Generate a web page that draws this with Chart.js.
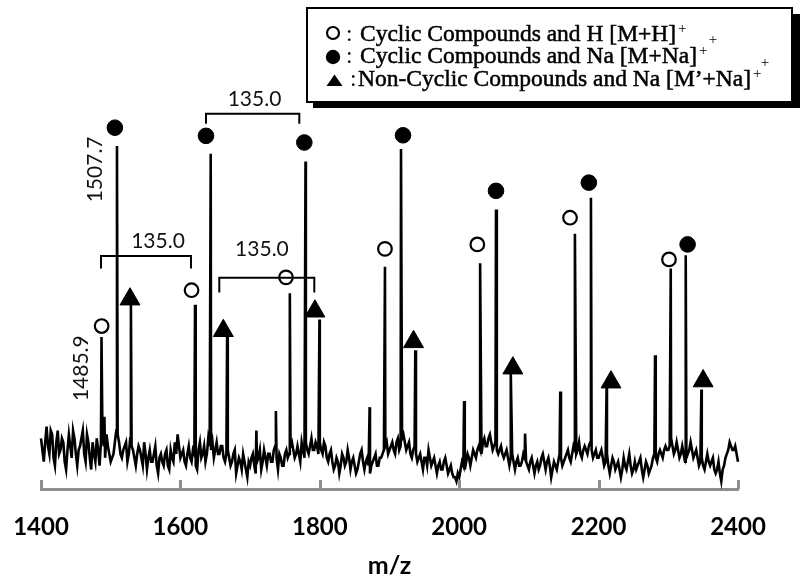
<!DOCTYPE html>
<html><head><meta charset="utf-8">
<script src="https://cdn.jsdelivr.net/npm/chart.js@4.4.1/dist/chart.umd.min.js"></script>
<style>html,body{margin:0;padding:0;background:#fff}#wrap{width:800px;height:583px}</style>
</head><body><div id="wrap"><canvas id="c" width="800" height="583"></canvas></div>
<script>
// ---- axis ----
const xTicks = [1400, 1600, 1800, 2000, 2200, 2400];
const xTitle = 'm/z';

// ---- baseline noise, every 4 m/z from 1400 to 2400 ----
const noiseStartMz = 1400, noiseStepMz = 4;
const noise = [
  13,7,16,9,14,6,15,10,12,5,14,8,13,6,11,15,7,12,5,9,13,6,17,8,11,
  7,9,15,12,8,11,7,13,10,6,11,8,12,5,10,7,11,4,9,6,10,5,8,12,14,
  8,10,6,11,7,9,5,12,9,7,13,10,8,12,9,11,7,10,6,9,4,8,5,7,3,
  6,9,4,8,5,10,6,9,7,11,5,8,6,10,9,12,8,11,7,10,12,9,13,10,11,
  12,9,11,7,10,5,8,4,9,6,10,5,8,4,7,10,5,8,4,7,9,6,8,10,12,
  10,12,9,13,11,14,10,12,8,11,7,9,5,8,10,6,8,4,7,5,8,4,6,3,2,
  3,7,5,9,6,10,8,11,9,13,11,14,10,12,9,11,8,10,6,9,5,8,6,9,7,
  5,8,4,7,6,9,5,8,3,7,5,9,6,8,10,7,11,9,12,8,11,9,12,8,10,
  8,10,6,9,4,8,5,7,3,8,5,9,4,7,6,8,3,7,4,6,9,7,10,8,11,
  10,13,9,12,8,11,7,9,12,8,10,6,8,5,9,6,8,4,7,2,6,9,12,10,11,
  7
];
// in-between noise samples, every 4 m/z from 1402 to 2398
const noiseMidStartMz = 1402;
const noiseMid = [
  10,12,11,15,8,12,9,13,7,10,11,15,9,10,13,9,14,8,12,7,10,12,11,14,9,
  8,12,14,9,10,12,9,11,8,9,10,6,9,8,7,9,6,8,7,9,6,10,7,9,11,
  9,7,9,8,10,6,10,8,11,9,11,12,10,9,11,8,9,8,7,10,6,7,9,5,7,
  8,6,7,10,7,8,9,7,10,8,9,6,9,8,11,10,9,9,12,8,10,11,10,12,9,
  10,12,8,9,7,6,7,6,8,7,8,7,6,5,9,7,7,6,6,8,6,8,9,11,9,
  11,10,12,10,13,12,11,9,10,9,8,7,8,6,8,7,6,6,5,7,6,5,4,3,4,
  5,6,7,8,8,9,10,10,12,11,13,12,11,10,10,9,9,8,8,7,7,6,7,8,6,
  7,6,6,5,8,7,7,6,5,6,7,8,7,9,8,9,10,10,9,10,10,11,10,9,8,
  9,8,7,6,6,7,6,5,5,6,7,6,5,5,7,5,5,6,5,8,8,9,9,10,10,
  11,11,10,10,9,9,8,10,10,9,8,7,6,7,7,7,5,5,4,5,8,10,11,10,9
];

// ---- peaks (m/z, intensity) ----
const peakMz = [1486.8, 1491, 1509, 1529, 1621, 1643.5, 1667, 1709, 1737, 1757, 1779.5, 1799.5,
  1871.5, 1893.5, 1916.5, 1937, 2007, 2030, 2052.8, 2074, 2094.5, 2145, 2166, 2189, 2211.5,
  2281, 2303.5, 2325, 2347.5];
const peakIntensity = [39, 18.5, 88, 47.25, 47.25, 86, 39, 15, 20, 50.25, 84, 43.5,
  21, 57, 87.25, 35.6, 22.6, 57.9, 71.7, 29.7, 14.2, 25, 65.5, 74.7, 26.3,
  34.3, 56.6, 60, 25.5];

// ---- peak symbols ----
const openMz = [1487, 1616, 1751.5, 1893.5, 2026, 2159, 2301];
const openY = [41.8, 51, 54.3, 61.6, 62.75, 69.6, 58.9];
const filledMz = [1506, 1636.7, 1777.8, 1919.4, 2052.8, 2186, 2327.7];
const filledY = [92.7, 90.6, 88.9, 90.75, 76.5, 78.6, 62.75];
const triMz = [1527.7, 1661.6, 1793, 1934.5, 2077, 2217.8, 2350];
const triY = [48.7, 40.6, 45.6, 37.75, 31, 27.4, 27.7];

// ---- annotations ----
const bracketFromMz = [1636.7, 1486.1, 1655.8];
const bracketToMz = [1770.6, 1615.2, 1792.1];
const bracketLevel = [96.25, 59.75, 54.2];
const bracketFoot = [93.7, 56.6, 50.4];
const bracketText = ['135.0', '135.0', '135.0'];
const bracketTextMz = [1706.3, 1567.9, 1717];
const bracketTextY = [100.1, 63.5, 61.5];
const massText = ['1507.7', '1485.9'];
const massTextMz = [1477.5, 1458.4];
const massTextY = [82, 31];

// ---- legend ----
const legendSymbols = ['open', 'filled', 'triangle'];
const legendTexts = ['Cyclic Compounds and H [M+H]', 'Cyclic Compounds and Na [M+Na]', 'Non\u2010Cyclic Compounds and Na [M\u2019+Na]'];
const legendSup = '+';

const spectrum = noise.map((v, i) => ({x: noiseStartMz + i * noiseStepMz, y: v}))
  .concat(noiseMid.map((v, i) => ({x: noiseMidStartMz + i * noiseStepMz, y: v})))
  .concat(peakMz.map((m, i) => ({x: m, y: peakIntensity[i]})))
  .sort((a, b) => a.x - b.x);
const pts = (mz, ys) => mz.map((m, i) => ({x: m, y: ys[i]}));

const annotationPlugin = {
  id: 'annot',
  afterDatasetsDraw(chart) {
    const {ctx, scales: {x, y}, chartArea} = chart;
    ctx.save();
    // upward tick marks on the x axis
    ctx.strokeStyle = '#8e8e8e';
    ctx.lineWidth = 3;
    xTicks.forEach(v => {
      const px = Math.round(x.getPixelForValue(v)) + 0.5;
      ctx.beginPath();
      ctx.moveTo(px, chartArea.bottom);
      ctx.lineTo(px, chartArea.bottom - 9);
      ctx.stroke();
    });
    // brackets
    ctx.strokeStyle = '#000';
    ctx.lineWidth = 2;
    bracketFromMz.forEach((m, i) => {
      const x1 = x.getPixelForValue(m), x2 = x.getPixelForValue(bracketToMz[i]);
      const yl = y.getPixelForValue(bracketLevel[i]), yf = y.getPixelForValue(bracketFoot[i]);
      ctx.beginPath();
      ctx.moveTo(x1, yf); ctx.lineTo(x1, yl); ctx.lineTo(x2, yl); ctx.lineTo(x2, yf);
      ctx.stroke();
    });
    ctx.fillStyle = '#111';
    ctx.font = '21px Lato';
    ctx.textAlign = 'center';
    ctx.textBaseline = 'middle';
    bracketText.forEach((t, i) => {
      ctx.fillText(t, x.getPixelForValue(bracketTextMz[i]), y.getPixelForValue(bracketTextY[i]));
    });
    massText.forEach((t, i) => {
      ctx.save();
      ctx.translate(x.getPixelForValue(massTextMz[i]), y.getPixelForValue(massTextY[i]));
      ctx.rotate(-Math.PI / 2);
      ctx.fillText(t, 0, 0);
      ctx.restore();
    });
    ctx.restore();
  },
  afterDraw(chart) {
    const ctx = chart.ctx;
    ctx.save();
    // shadow + box
    ctx.fillStyle = '#000';
    ctx.fillRect(313, 14, 487, 94);
    ctx.fillStyle = '#fff';
    ctx.fillRect(307, 8, 485, 94);
    ctx.strokeStyle = '#000';
    ctx.lineWidth = 2;
    ctx.strokeRect(307, 8, 485, 94);
    const baselines = [40.7, 63.3, 86];
    const symY = [33, 57, 80];
    const colonX = [346, 346, 350];
    const textX = [360, 360, 358];
    legendSymbols.forEach((s, i) => {
      ctx.fillStyle = '#000';
      ctx.strokeStyle = '#000';
      if (s === 'open') {
        ctx.lineWidth = 2.2;
        ctx.beginPath(); ctx.arc(333, symY[i], 6, 0, Math.PI * 2); ctx.stroke();
      } else if (s === 'filled') {
        ctx.beginPath(); ctx.arc(333, symY[i], 7.2, 0, Math.PI * 2); ctx.fill();
      } else {
        ctx.beginPath();
        ctx.moveTo(334.5, symY[i] - 5.5); ctx.lineTo(342.5, symY[i] + 6); ctx.lineTo(326.5, symY[i] + 6);
        ctx.closePath(); ctx.fill();
      }
      ctx.font = '23.5px "Liberation Serif"';
      ctx.textAlign = 'left';
      ctx.textBaseline = 'alphabetic';
      ctx.fillText(':', colonX[i], baselines[i]);
      ctx.lineWidth = 0.5;
      ctx.strokeText(legendTexts[i], textX[i], baselines[i]);
      ctx.fillText(legendTexts[i], textX[i], baselines[i]);
      const w = ctx.measureText(legendTexts[i]).width;
      ctx.font = '15px "Liberation Serif"';
      ctx.fillText(legendSup, textX[i] + w + 2, baselines[i] - 8);
    });
    // stray superscript marks as in the original
    ctx.font = '15px "Liberation Serif"';
    ctx.textAlign = 'center';
    ctx.textBaseline = 'middle';
    ctx.fillText(legendSup, 713, 40);
    ctx.fillText(legendSup, 765, 63);
    ctx.restore();
  }
};

new Chart(document.getElementById('c'), {
  type: 'scatter',
  data: {
    datasets: [
      {type: 'line', data: spectrum, borderColor: '#000', borderWidth: 2.6, pointRadius: 0,
       tension: 0, fill: false, order: 1, clip: 4},
      {data: pts(openMz, openY), pointStyle: 'circle', pointRadius: 6.8, pointBorderWidth: 2.2,
       pointBorderColor: '#000', pointBackgroundColor: '#fff', order: 0, clip: false},
      {data: pts(filledMz, filledY), pointStyle: 'circle', pointRadius: 7.8, pointBorderWidth: 1,
       pointBorderColor: '#000', pointBackgroundColor: '#000', order: 0, clip: false},
      {data: pts(triMz, triY), pointStyle: 'triangle', pointRadius: 11.5, pointBorderWidth: 1,
       pointBorderColor: '#000', pointBackgroundColor: '#000', order: 0, clip: false}
    ]
  },
  options: {
    responsive: false,
    animation: false,
    events: [],
    layout: {padding: {left: 41, right: 62, top: 0, bottom: 0}},
    plugins: {legend: {display: false}, tooltip: {enabled: false}},
    scales: {
      x: {
        type: 'linear', min: 1400, max: 2400,
        afterBuildTicks: s => { s.ticks = xTicks.map(v => ({value: v})); },
        afterFit: s => { s.height = 94; s.paddingLeft = 0; s.paddingRight = 0; },
        grid: {display: false, drawTicks: false},
        border: {display: true, color: '#8e8e8e', width: 3},
        ticks: {padding: 24, color: '#000', maxRotation: 0, autoSkip: false,
                callback: v => String(v),
                font: {family: 'Lato', size: 24, weight: 'bold'}},
        title: {display: true, text: xTitle, color: '#000',
                font: {family: 'Lato', size: 25, weight: 'bold'}, padding: {top: 8, bottom: 2}}
      },
      y: {display: false, min: 0, max: 122.25}
    }
  },
  plugins: [annotationPlugin]
});
</script>
</body></html>
